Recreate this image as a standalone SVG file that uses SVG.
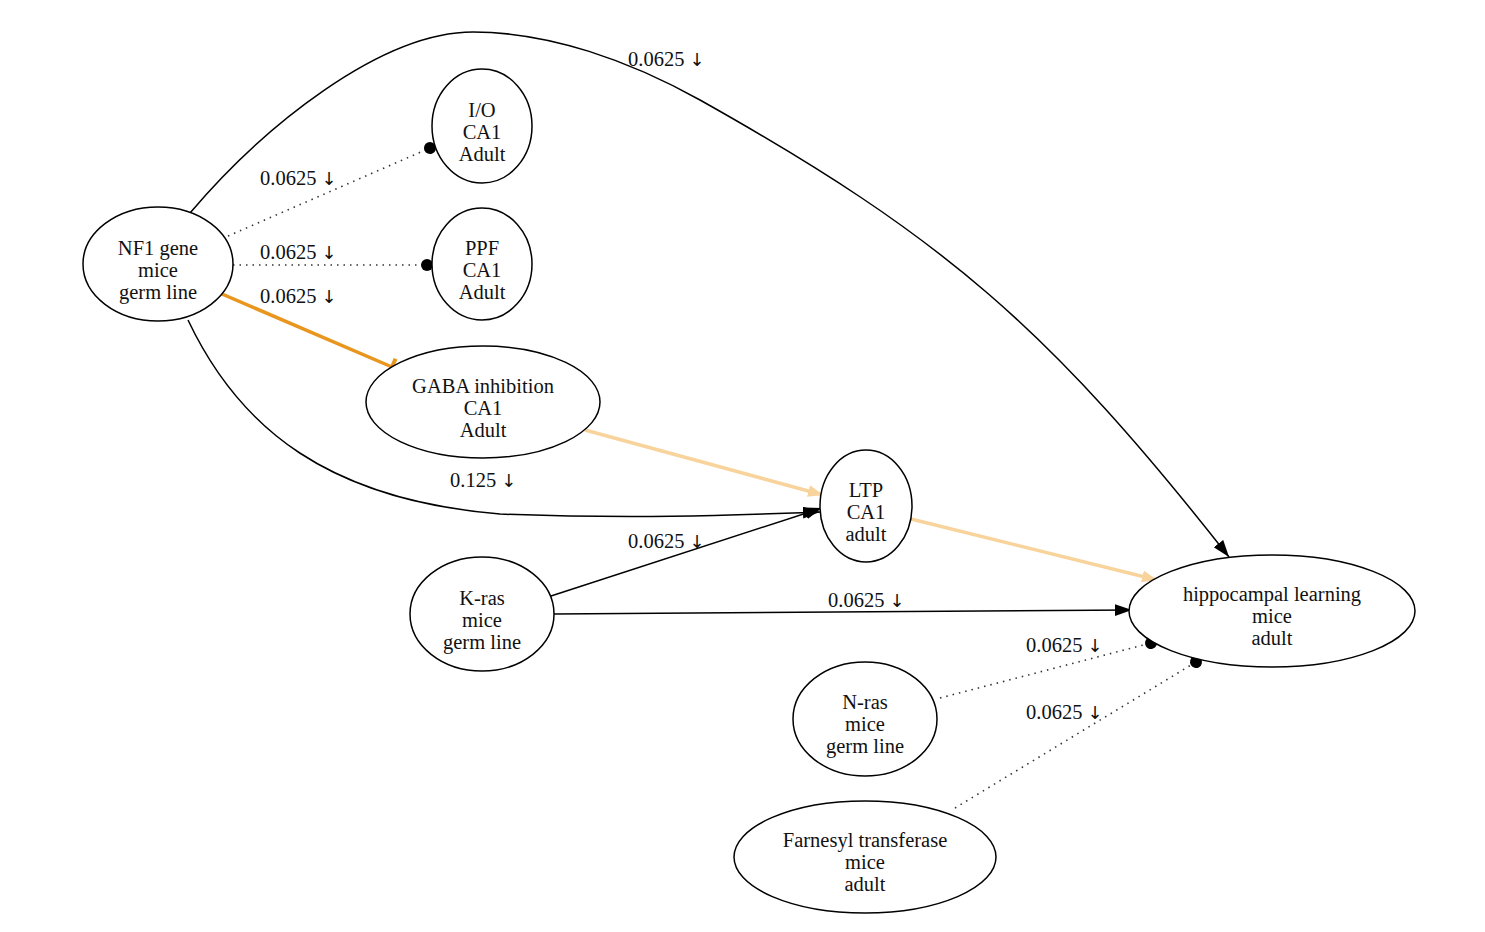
<svg xmlns="http://www.w3.org/2000/svg" width="1485" height="932" viewBox="0 0 1485 932">
<style>
.node ellipse{fill:#fff;stroke:#000;stroke-width:1.5}
.node text,.lbl{font-family:"Liberation Serif","Times New Roman",serif;font-size:20.5px;fill:#111;text-anchor:middle}
.lbl{text-anchor:start}
.ar{font-family:"DejaVu Sans",sans-serif;font-size:18px;fill:#111}
.e{fill:none;stroke:#000;stroke-width:1.5}
.dot{fill:none;stroke:#333;stroke-width:1.6;stroke-dasharray:1.5 5}
.inh{fill:none;stroke:#e8961e;stroke-width:3.5}
.lt{fill:none;stroke:#f8d49c;stroke-width:3.5}
</style>
<defs>
<marker id="arr" markerUnits="userSpaceOnUse" markerWidth="20" markerHeight="14" refX="17" refY="6" orient="auto"><path d="M0,0 L17,6 L0,12 z" fill="#000"/></marker>
<marker id="arrL" markerUnits="userSpaceOnUse" markerWidth="20" markerHeight="14" refX="15" refY="6" orient="auto"><path d="M0,0 L15,6 L0,12 z" fill="#f8d49c"/></marker>
<marker id="ball" markerUnits="userSpaceOnUse" markerWidth="14" markerHeight="14" refX="7" refY="7" orient="auto"><circle cx="7" cy="7" r="6" fill="#000"/></marker>
<marker id="tee" markerUnits="userSpaceOnUse" markerWidth="8" markerHeight="22" refX="3" refY="11" orient="auto"><rect x="1" y="2" width="4" height="18" fill="#e8961e"/></marker>
</defs>
<rect width="1485" height="932" fill="#fff"/>
<g id="connectors">
<path class="e" d="M190,213 C262,128 380,32 473,32 C550,32 630,61 700,100 C944,237 1049,328 1229,557" marker-end="url(#arr)"/>
<path class="dot" d="M228,236 L430,148" marker-end="url(#ball)"/>
<path class="dot" d="M233,265 L427,265" marker-end="url(#ball)"/>
<path class="inh" d="M222,294 L392,367" marker-end="url(#tee)"/>
<path class="e" d="M188,320 C 240,430 330,500 500,514 C 650,520 760,514 820,512" marker-end="url(#arr)"/>
<path class="lt" d="M585,430 L823,495" marker-end="url(#arrL)"/>
<path class="e" d="M551,596 L822,508" marker-end="url(#arr)"/>
<path class="e" d="M554,614 L1132,610" marker-end="url(#arr)"/>
<path class="lt" d="M911,519 L1157,580" marker-end="url(#arrL)"/>
<path class="dot" d="M940,698 L1151,643" marker-end="url(#ball)"/>
<path class="dot" d="M955,808 L1196,662" marker-end="url(#ball)"/>
<text class="lbl" x="628" y="66">0.0625 <tspan class="ar">↓</tspan></text>
<text class="lbl" x="260" y="185">0.0625 <tspan class="ar">↓</tspan></text>
<text class="lbl" x="260" y="259">0.0625 <tspan class="ar">↓</tspan></text>
<text class="lbl" x="260" y="303">0.0625 <tspan class="ar">↓</tspan></text>
<text class="lbl" x="450" y="487">0.125 <tspan class="ar">↓</tspan></text>
<text class="lbl" x="628" y="548">0.0625 <tspan class="ar">↓</tspan></text>
<text class="lbl" x="828" y="607">0.0625 <tspan class="ar">↓</tspan></text>
<text class="lbl" x="1026" y="652">0.0625 <tspan class="ar">↓</tspan></text>
<text class="lbl" x="1026" y="719">0.0625 <tspan class="ar">↓</tspan></text>
</g>
<g id="nf1" class="node"><ellipse cx="158" cy="264" rx="75" ry="57"/><text x="158" y="255">NF1 gene</text><text x="158" y="277">mice</text><text x="158" y="299">germ line</text></g>
<g id="io" class="node"><ellipse cx="482" cy="126" rx="50" ry="57"/><text x="482" y="117">I/O</text><text x="482" y="139">CA1</text><text x="482" y="161">Adult</text></g>
<g id="ppf" class="node"><ellipse cx="482" cy="264" rx="50" ry="56"/><text x="482" y="255">PPF</text><text x="482" y="277">CA1</text><text x="482" y="299">Adult</text></g>
<g id="gaba" class="node"><ellipse cx="483" cy="402" rx="117" ry="56"/><text x="483" y="393">GABA inhibition</text><text x="483" y="415">CA1</text><text x="483" y="437">Adult</text></g>
<g id="ltp" class="node"><ellipse cx="866" cy="506" rx="46" ry="56"/><text x="866" y="497">LTP</text><text x="866" y="519">CA1</text><text x="866" y="541">adult</text></g>
<g id="kras" class="node"><ellipse cx="482" cy="614" rx="72" ry="57"/><text x="482" y="605">K-ras</text><text x="482" y="627">mice</text><text x="482" y="649">germ line</text></g>
<g id="hippo" class="node"><ellipse cx="1272" cy="611" rx="143" ry="56"/><text x="1272" y="601">hippocampal learning</text><text x="1272" y="623">mice</text><text x="1272" y="645">adult</text></g>
<g id="nras" class="node"><ellipse cx="865" cy="719" rx="72" ry="57"/><text x="865" y="709">N-ras</text><text x="865" y="731">mice</text><text x="865" y="753">germ line</text></g>
<g id="farnesyl" class="node"><ellipse cx="865" cy="857" rx="131" ry="56"/><text x="865" y="847">Farnesyl transferase</text><text x="865" y="869">mice</text><text x="865" y="891">adult</text></g>
</svg>
